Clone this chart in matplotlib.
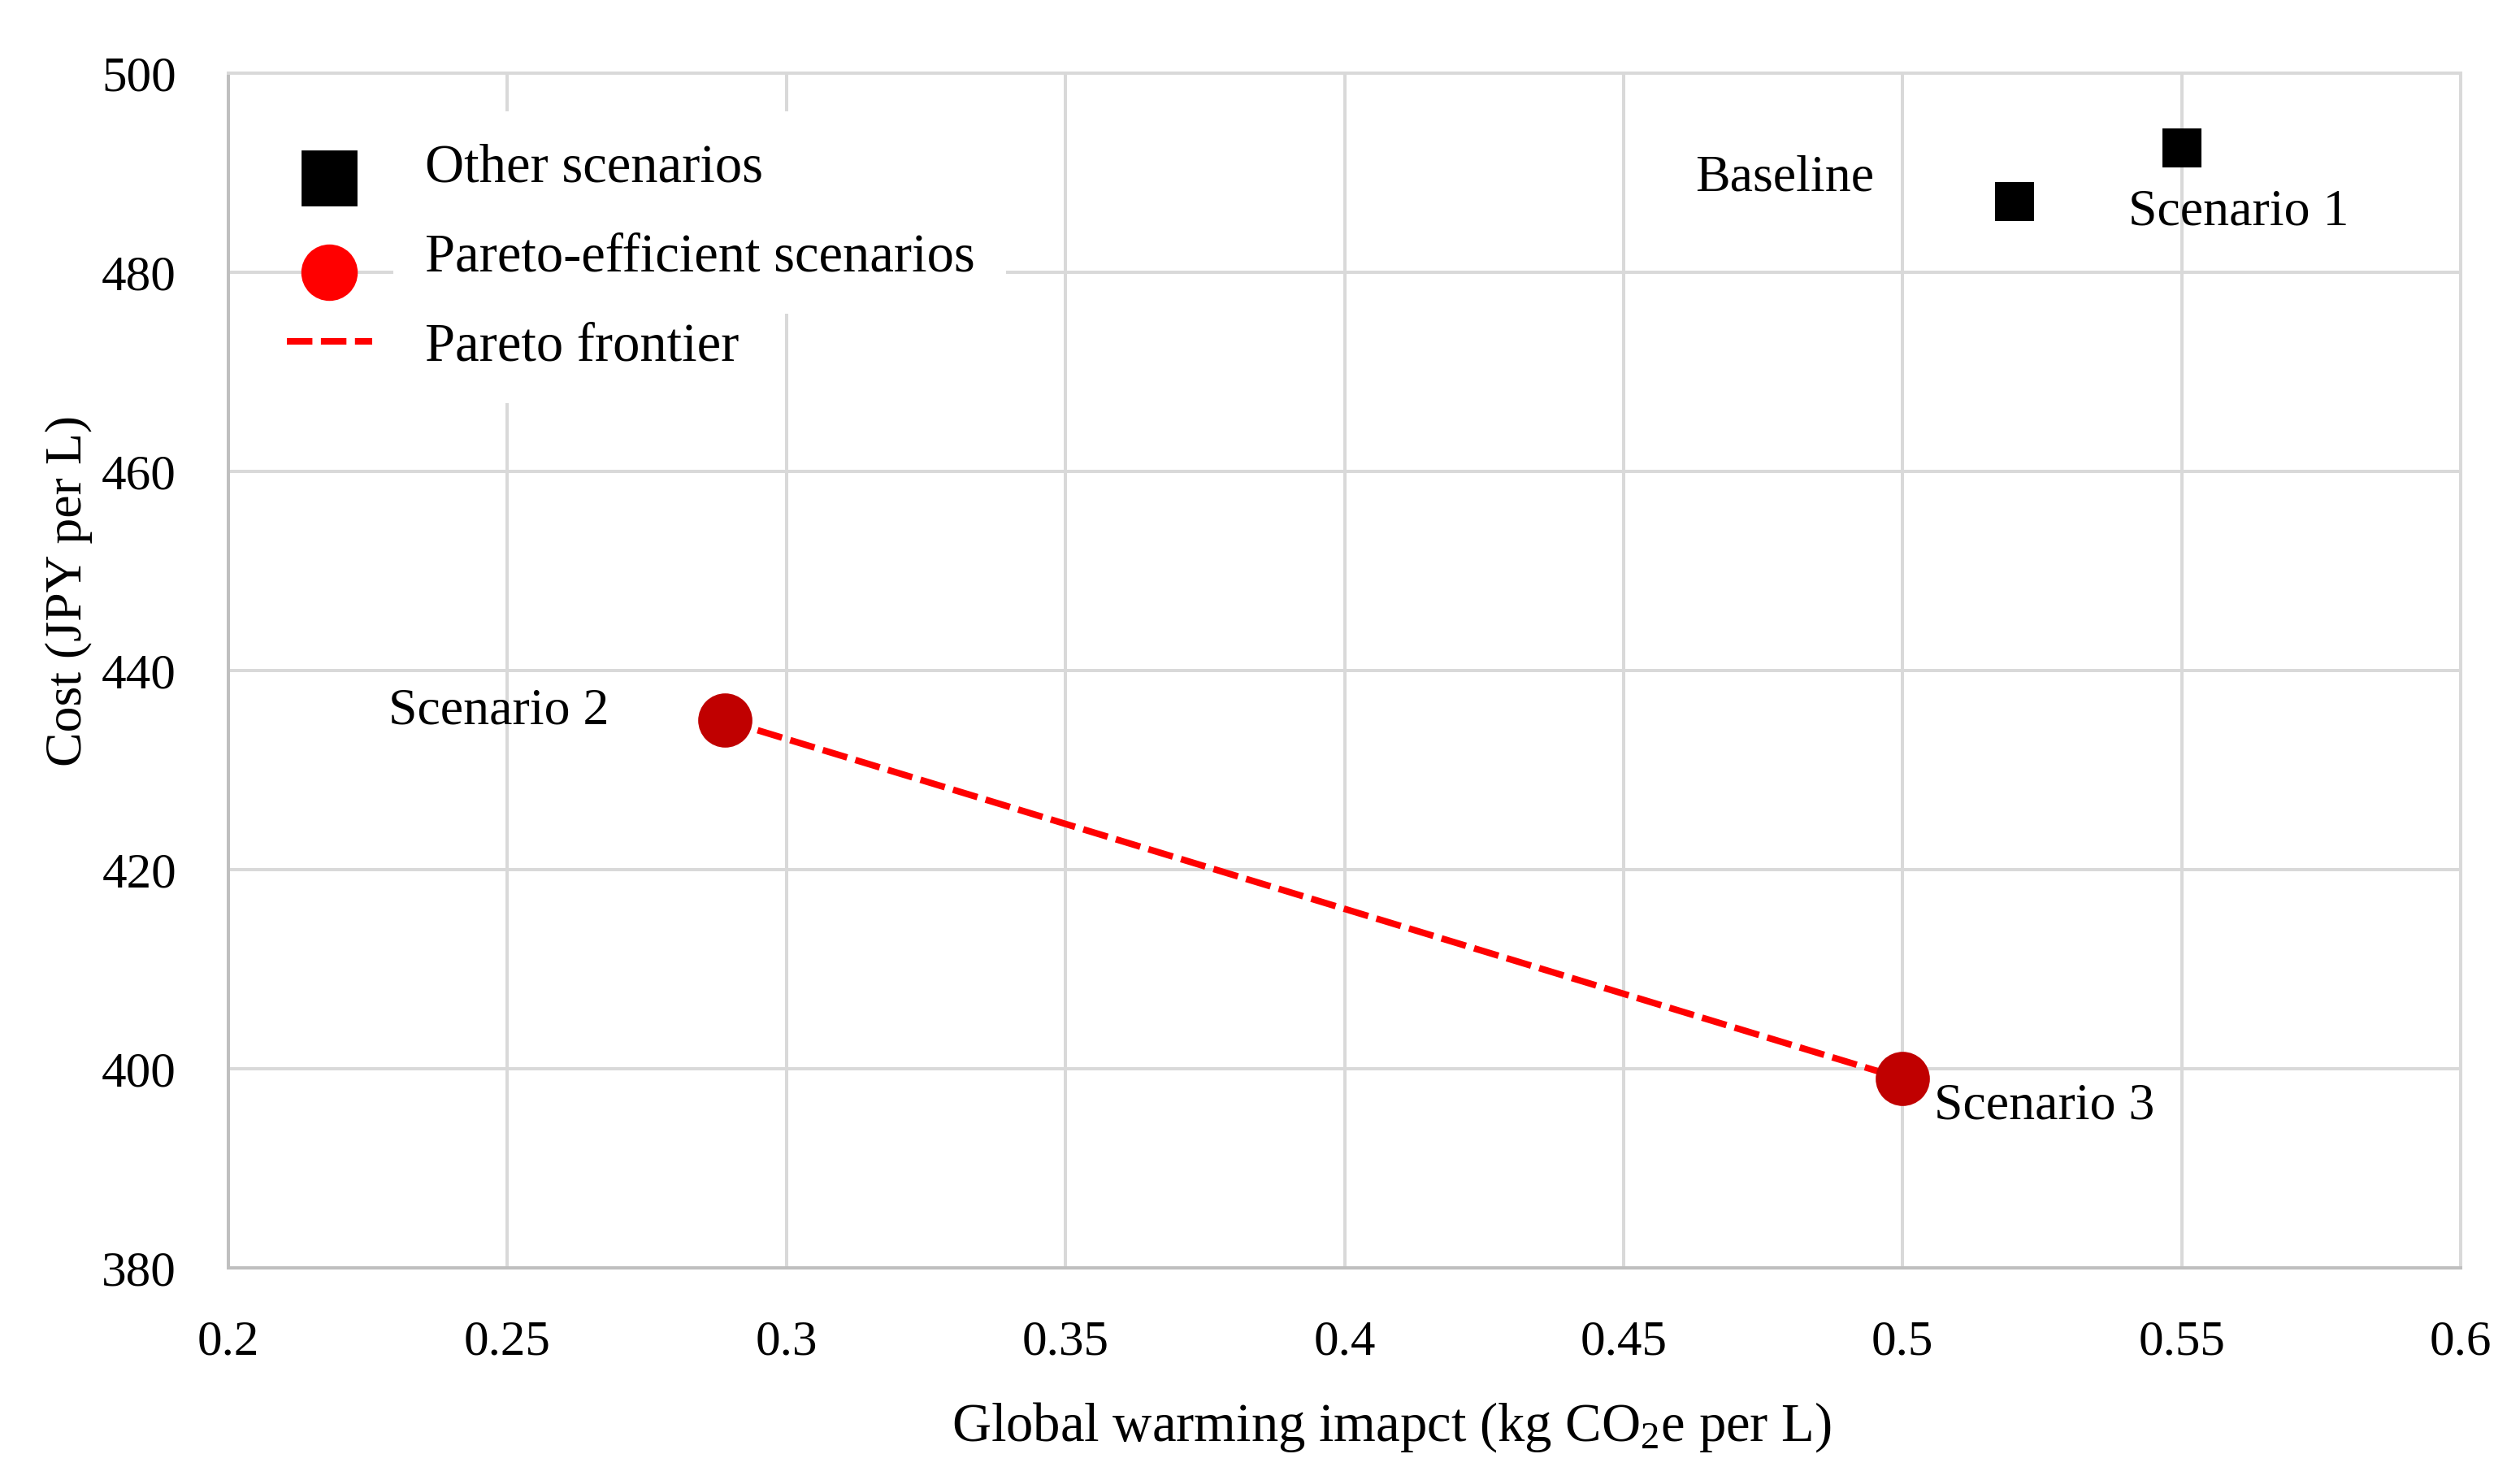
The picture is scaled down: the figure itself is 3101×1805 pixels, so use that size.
import matplotlib
matplotlib.use("Agg")
import numpy as np
import matplotlib.pyplot as plt
from matplotlib.lines import Line2D
from matplotlib.legend_handler import HandlerLine2D

# ---- data ----
other_names = ["Baseline", "Scenario 1"]
other_x = [0.52, 0.55]
other_y = [487.1, 492.5]

pareto_names = ["Scenario 2", "Scenario 3"]
pareto_x = [0.289, 0.50]
pareto_y = [435.0, 399.0]

x_ticks = [0.2, 0.25, 0.3, 0.35, 0.4, 0.45, 0.5, 0.55, 0.6]
x_ticklabels = ["0.2", "0.25", "0.3", "0.35", "0.4", "0.45", "0.5", "0.55", "0.6"]
y_ticks = [380, 400, 420, 440, 460, 480, 500]

legend_labels = ["Other scenarios", "Pareto-efficient scenarios", "Pareto frontier"]

# ---- style ----
plt.rcParams["font.family"] = ["Liberation Serif", "DejaVu Serif"]
plt.rcParams["mathtext.fontset"] = "custom"
plt.rcParams["mathtext.rm"] = "Liberation Serif"
plt.rcParams["mathtext.it"] = "Liberation Serif:italic"

W, H, DPI = 3101, 1805, 200
fig = plt.figure(figsize=(W / DPI, H / DPI), dpi=DPI)
L, R, T, B = 281, 3028, 90, 1560
ax = fig.add_axes([L / W, 1 - B / H, (R - L) / W, (B - T) / H])

grid_c = "#D9D9D9"
spine_c = "#BFBFBF"
lw_grid = 1.44

ax.set_xlim(0.2, 0.6)
ax.set_ylim(380, 500)
ax.set_xticks(x_ticks)
ax.set_xticklabels(x_ticklabels)
ax.set_yticks(y_ticks)
ax.grid(True, color=grid_c, linewidth=lw_grid, zorder=0)
ax.set_axisbelow(True)
ax.tick_params(axis="both", length=0, labelsize=22)
ax.tick_params(axis="x", pad=23)
ax.tick_params(axis="y", pad=23)
for s in ["top", "right"]:
    ax.spines[s].set_color(grid_c)
    ax.spines[s].set_linewidth(lw_grid)
for s in ["left", "bottom"]:
    ax.spines[s].set_color(spine_c)
    ax.spines[s].set_linewidth(lw_grid)

dash = (0, (3.9, 1.3))
# frontier
ax.plot(pareto_x, pareto_y, color="#FF0000", linewidth=2.9, linestyle=dash,
        dash_capstyle="butt", zorder=3)
# points
ax.scatter(other_x, other_y, marker="s", s=17 ** 2, color="black", zorder=4, linewidths=0)
ax.scatter(pareto_x, pareto_y, marker="o", s=24 ** 2, color="#C00000", zorder=4, linewidths=0)

# labels
offsets = {
    "Baseline": ((-62, 4.7), "right"),
    "Scenario 1": ((-23.8, -34.2), "left"),
    "Scenario 2": ((-51.5, -1.4), "right"),
    "Scenario 3": ((14, -17.6), "left"),
}
for name, x, y in zip(other_names + pareto_names, other_x + pareto_x, other_y + pareto_y):
    off, ha = offsets[name]
    ax.annotate(name, (x, y), xytext=off, textcoords="offset points",
                ha=ha, va="baseline", fontsize=23, zorder=5)

# axis labels
ax.set_xlabel("Global warming imapct (kg CO$_\\mathrm{2}$e per L)", fontsize=24)
ax.xaxis.set_label_coords((1712 - L) / (R - L), (B - 1773) / (B - T))
ax.xaxis.label.set_va("baseline")
ax.set_ylabel("Cost (JPY per L)", fontsize=23)
ax.yaxis.set_label_coords((100 - L) / (R - L), (B - 727) / (B - T))
ax.yaxis.label.set_va("baseline")


class ShiftedHandler(HandlerLine2D):
    def __init__(self, dy=0.0, **kw):
        super().__init__(**kw)
        self.dy = dy

    def create_artists(self, legend, orig_handle, xdescent, ydescent, width, height,
                       fontsize, trans):
        arts = super().create_artists(legend, orig_handle, xdescent, ydescent, width,
                                      height, fontsize, trans)
        for a in arts:
            a.set_ydata(np.asarray(a.get_ydata(), dtype=float) - self.dy)
        return arts


# legend
handles = [
    Line2D([], [], marker="s", markersize=24, color="black", linestyle="none"),
    Line2D([], [], marker="o", markersize=24, color="#FF0000", linestyle="none"),
    Line2D([], [], color="#FF0000", linewidth=2.9, linestyle=dash, dash_capstyle="butt"),
]
leg = ax.legend(handles, legend_labels, loc="upper left",
                bbox_to_anchor=(353 / W, 1 - 176 / H), bbox_transform=fig.transFigure,
                frameon=False, fontsize=24, borderpad=0, borderaxespad=0,
                handlelength=1.57, handletextpad=0.98, labelspacing=0.74,
                handler_map={handles[0]: ShiftedHandler(dy=7),
                             handles[1]: ShiftedHandler(dy=9),
                             handles[2]: ShiftedHandler(dy=0)})
for t in leg.get_texts():
    t.set_bbox(dict(facecolor="white", edgecolor="none", pad=14))

fig.savefig("out.png", dpi=DPI, facecolor="white")
